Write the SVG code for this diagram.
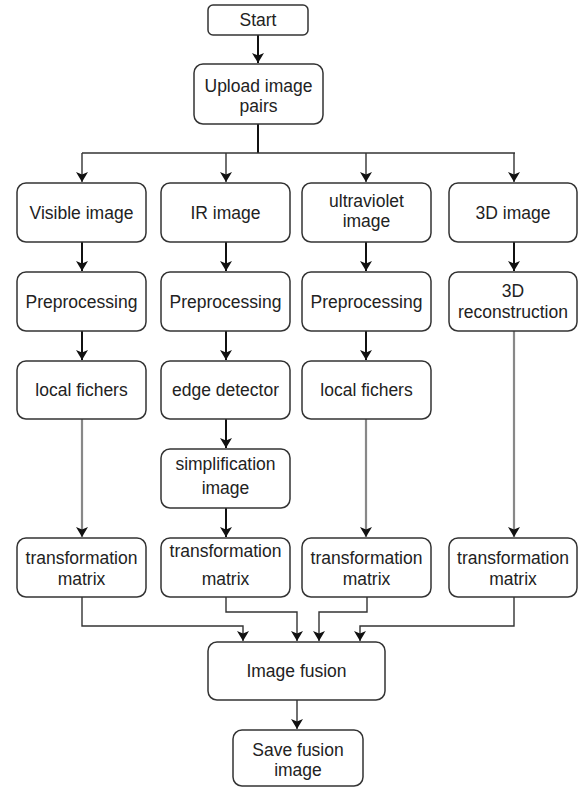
<svg xmlns="http://www.w3.org/2000/svg" width="579" height="788" viewBox="0 0 579 788">
<defs>
<marker id="ah" viewBox="0 0 10 12" refX="10" refY="6" markerWidth="10" markerHeight="12" orient="auto" markerUnits="userSpaceOnUse">
<path d="M0,0 L10,6 L0,12 L2.5,6 z" fill="#111"/>
</marker>
<style>
.box{fill:#fff;stroke:#333;stroke-width:1.5}
.t{font-family:"Liberation Sans",Arial,sans-serif;font-size:17.5px;fill:#222;text-anchor:middle}
.c{fill:none;stroke:#111;stroke-width:2}
.g{fill:none;stroke:#888;stroke-width:2.2}
.d{fill:none;stroke:#333;stroke-width:1.4}
</style>
</defs>
<rect width="579" height="788" fill="#fff"/>
<g id="connectors">
<path class="c" d="M258,35 V63" marker-end="url(#ah)"/>
<path class="c" d="M258,124 V153"/>
<path class="d" d="M82,153 H515"/>
<path class="d" d="M82,153 V182" marker-end="url(#ah)"/>
<path class="d" d="M226,153 V182" marker-end="url(#ah)"/>
<path class="d" d="M366,153 V182" marker-end="url(#ah)"/>
<path class="d" d="M514,153 V182" marker-end="url(#ah)"/>
<path class="c" d="M82,242 V271" marker-end="url(#ah)"/>
<path class="c" d="M226,242 V271" marker-end="url(#ah)"/>
<path class="c" d="M366,242 V271" marker-end="url(#ah)"/>
<path class="c" d="M514,242 V271" marker-end="url(#ah)"/>
<path class="c" d="M82,331 V360" marker-end="url(#ah)"/>
<path class="c" d="M226,331 V360" marker-end="url(#ah)"/>
<path class="c" d="M366,331 V360" marker-end="url(#ah)"/>
<path class="g" d="M514,331 V537" marker-end="url(#ah)"/>
<path class="g" d="M82,419 V537" marker-end="url(#ah)"/>
<path class="g" d="M366,419 V537" marker-end="url(#ah)"/>
<path class="c" d="M226,419 V448" marker-end="url(#ah)"/>
<path class="c" d="M226,508 V537" marker-end="url(#ah)"/>
<path class="d" d="M82,597 V626 H243 V641" marker-end="url(#ah)"/>
<path class="d" d="M226,597 V612 H297 V641" marker-end="url(#ah)"/>
<path class="d" d="M367,597 V612 H319 V641" marker-end="url(#ah)"/>
<path class="d" d="M514,597 V626 H360 V641" marker-end="url(#ah)"/>
<path class="d" d="M297,700 V729" marker-end="url(#ah)"/>
</g>
<g id="start"><rect class="box" x="208" y="5" width="100" height="30" rx="5"/><text class="t" x="258" y="26">Start</text></g>
<g id="upload"><rect class="box" x="194" y="64" width="129" height="60" rx="9"/><text class="t" x="258.5" y="92">Upload image</text><text class="t" x="258.5" y="112">pairs</text></g>
<g id="visible"><rect class="box" x="17" y="183" width="129" height="59" rx="9"/><text class="t" x="81.5" y="219">Visible image</text></g>
<g id="ir"><rect class="box" x="161" y="183" width="129" height="59" rx="9"/><text class="t" x="225.5" y="219">IR image</text></g>
<g id="uv"><rect class="box" x="302" y="183" width="129" height="59" rx="9"/><text class="t" x="366.5" y="207">ultraviolet</text><text class="t" x="366.5" y="227">image</text></g>
<g id="img3d"><rect class="box" x="449" y="183" width="128" height="59" rx="9"/><text class="t" x="513" y="219">3D image</text></g>
<g id="pre1"><rect class="box" x="17" y="272" width="129" height="59" rx="9"/><text class="t" x="81.5" y="308">Preprocessing</text></g>
<g id="pre2"><rect class="box" x="161" y="272" width="129" height="59" rx="9"/><text class="t" x="225.5" y="308">Preprocessing</text></g>
<g id="pre3"><rect class="box" x="302" y="272" width="129" height="59" rx="9"/><text class="t" x="366.5" y="308">Preprocessing</text></g>
<g id="recon"><rect class="box" x="449" y="272" width="128" height="59" rx="9"/><text class="t" x="513" y="297">3D</text><text class="t" x="513" y="318">reconstruction</text></g>
<g id="lf1"><rect class="box" x="17" y="361" width="129" height="58" rx="9"/><text class="t" x="81.5" y="396">local fichers</text></g>
<g id="edge"><rect class="box" x="161" y="361" width="129" height="58" rx="9"/><text class="t" x="225.5" y="396">edge detector</text></g>
<g id="lf2"><rect class="box" x="302" y="361" width="129" height="58" rx="9"/><text class="t" x="366.5" y="396">local fichers</text></g>
<g id="simp"><rect class="box" x="161" y="449" width="129" height="59" rx="9"/><text class="t" x="225.5" y="470">simplification</text><text class="t" x="225.5" y="494">image</text></g>
<g id="tm1"><rect class="box" x="17" y="538" width="129" height="59" rx="9"/><text class="t" x="81.5" y="564">transformation</text><text class="t" x="81.5" y="585">matrix</text></g>
<g id="tm2"><rect class="box" x="161" y="538" width="129" height="59" rx="9"/><text class="t" x="225.5" y="557">transformation</text><text class="t" x="225.5" y="585">matrix</text></g>
<g id="tm3"><rect class="box" x="302" y="538" width="129" height="59" rx="9"/><text class="t" x="366.5" y="564">transformation</text><text class="t" x="366.5" y="585">matrix</text></g>
<g id="tm4"><rect class="box" x="449" y="538" width="128" height="59" rx="9"/><text class="t" x="513" y="564">transformation</text><text class="t" x="513" y="585">matrix</text></g>
<g id="fusion"><rect class="box" x="208" y="642" width="177" height="58" rx="9"/><text class="t" x="296.5" y="677">Image fusion</text></g>
<g id="save"><rect class="box" x="233" y="730" width="130" height="56" rx="9"/><text class="t" x="298" y="756">Save fusion</text><text class="t" x="298" y="776">image</text></g>
</svg>
